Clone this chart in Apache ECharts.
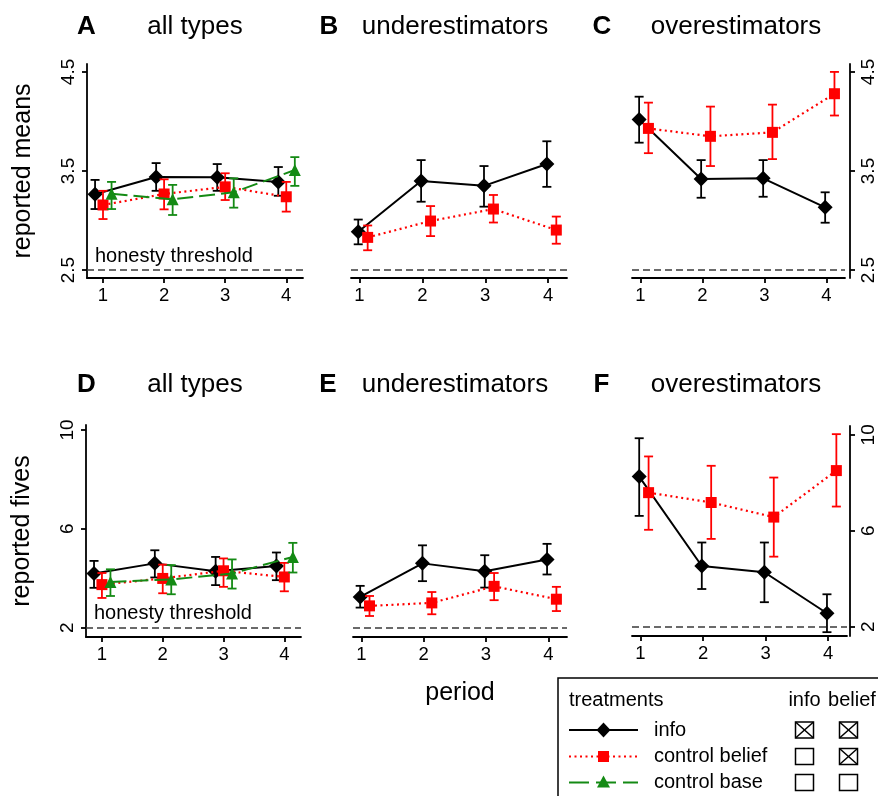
<!DOCTYPE html>
<html><head><meta charset="utf-8">
<script src="https://cdn.jsdelivr.net/npm/echarts@6/dist/echarts.min.js"></script>
<style>html,body{margin:0;padding:0;background:#fff}#c{width:878px;height:796px}</style>
</head><body><div id="c"></div>
<script>
// ---------- data ----------
const periods = [1, 2, 3, 4];
const meansTicks = [2.5, 3.5, 4.5];
const fivesTicks = [2, 6, 10];
const meansThreshold = 2.5;
const fivesThreshold = 2;

// A: reported means, all types
const aInfo = [3.265, 3.44, 3.436, 3.39];
const aInfoLo = [3.116, 3.30, 3.30, 3.25];
const aInfoHi = [3.41, 3.58, 3.57, 3.54];
const aBelief = [3.157, 3.268, 3.34, 3.24];
const aBeliefLo = [3.015, 3.113, 3.207, 3.09];
const aBeliefHi = [3.30, 3.416, 3.477, 3.39];
const aBase = [3.27, 3.214, 3.285, 3.51];
const aBaseLo = [3.116, 3.056, 3.13, 3.35];
const aBaseHi = [3.39, 3.36, 3.426, 3.64];
// B: reported means, underestimators
const bInfo = [2.887, 3.40, 3.35, 3.57];
const bInfoLo = [2.76, 3.19, 3.14, 3.34];
const bInfoHi = [3.01, 3.61, 3.55, 3.80];
const bBelief = [2.83, 2.995, 3.116, 2.904];
const bBeliefLo = [2.70, 2.843, 2.98, 2.766];
const bBeliefHi = [2.95, 3.146, 3.258, 3.04];
// C: reported means, overestimators
const cInfo = [4.02, 3.42, 3.426, 3.133];
const cInfoLo = [3.786, 3.23, 3.24, 2.978];
const cInfoHi = [4.25, 3.61, 3.61, 3.285];
const cBelief = [3.93, 3.85, 3.89, 4.28];
const cBeliefLo = [3.68, 3.55, 3.62, 4.06];
const cBeliefHi = [4.19, 4.15, 4.17, 4.50];
// D: reported fives, all types
const dInfo = [4.19, 4.60, 4.28, 4.49];
const dInfoLo = [3.61, 4.03, 3.72, 3.92];
const dInfoHi = [4.70, 5.13, 4.86, 5.04];
const dBelief = [3.74, 3.99, 4.30, 4.05];
const dBeliefLo = [3.20, 3.39, 3.65, 3.47];
const dBeliefHi = [4.21, 4.55, 4.80, 4.62];
const dBase = [3.85, 3.95, 4.19, 4.86];
const dBaseLo = [3.28, 3.35, 3.58, 4.23];
const dBaseHi = [4.36, 4.53, 4.76, 5.43];
// E: reported fives, underestimators
const eInfo = [3.24, 4.60, 4.28, 4.76];
const eInfoLo = [2.81, 3.88, 3.62, 4.15];
const eInfoHi = [3.69, 5.33, 4.93, 5.39];
const eBelief = [2.88, 3.00, 3.67, 3.15];
const eBeliefLo = [2.47, 2.54, 3.11, 2.67];
const eBeliefHi = [3.28, 3.44, 4.21, 3.65];
// F: reported fives, overestimators
const fInfo = [8.26, 4.53, 4.27, 2.56];
const fInfoLo = [6.62, 3.57, 3.02, 1.77];
const fInfoHi = [9.86, 5.51, 5.51, 3.35];
const fBelief = [7.59, 7.18, 6.57, 8.51];
const fBeliefLo = [6.04, 5.66, 4.92, 7.01];
const fBeliefHi = [9.10, 8.71, 8.22, 10.03];

const legendNames = ['info', 'control belief', 'control base'];
const legendHasInfo = [true, false, false];
const legendHasBelief = [true, true, false];

// ---------- styles / layout ----------
const FONT = 'Liberation Sans';
const BLACK = '#000000', RED = '#ff0000', GREEN = '#148a14';
const TREAT = {
  info:   {color: BLACK, symbol: 'diamond',  size: 15, dash: 'solid', width: 2},
  belief: {color: RED,   symbol: 'rect',     size: 11, dash: [2, 3.5], width: 2.2},
  base:   {color: GREEN, symbol: 'triangle', size: 12, dash: [16, 6], width: 2}
};

const panels = [
  {grid: {left: 87, top: 64, width: 216, height: 214}, xr: [0.738, 4.274], yr: [2.42, 4.58], ticks: meansTicks,
   ypos: 'left', yname: 'reported means', thr: meansThreshold, thrLabel: true, letter: 'A', title: 'all types',
   ser: [['info', aInfo, aInfoLo, aInfoHi, -0.13], ['belief', aBelief, aBeliefLo, aBeliefHi, 0.0], ['base', aBase, aBaseLo, aBaseHi, 0.14]]},
  {grid: {left: 351, top: 64, width: 216, height: 214}, xr: [0.865, 4.30], yr: [2.42, 4.58], ticks: meansTicks,
   ypos: null, thr: meansThreshold, letter: 'B', title: 'underestimators',
   ser: [['info', bInfo, bInfoLo, bInfoHi, -0.02], ['belief', bBelief, bBeliefLo, bBeliefHi, 0.13]]},
  {grid: {left: 632, top: 64, width: 214, height: 214}, xr: [0.865, 4.30], yr: [2.42, 4.58], ticks: meansTicks,
   ypos: 'right', yoff: 5, thr: meansThreshold, letter: 'C', title: 'overestimators',
   ser: [['info', cInfo, cInfoLo, cInfoHi, -0.02], ['belief', cBelief, cBeliefLo, cBeliefHi, 0.13]]},
  {grid: {left: 86, top: 425, width: 215, height: 212}, xr: [0.738, 4.274], yr: [1.62, 10.2], ticks: fivesTicks,
   ypos: 'left', yname: 'reported fives', thr: fivesThreshold, thrLabel: true, letter: 'D', title: 'all types',
   ser: [['info', dInfo, dInfoLo, dInfoHi, -0.13], ['belief', dBelief, dBeliefLo, dBeliefHi, 0.0], ['base', dBase, dBaseLo, dBaseHi, 0.14]]},
  {grid: {left: 353, top: 425, width: 214, height: 212}, xr: [0.865, 4.30], yr: [1.62, 10.2], ticks: fivesTicks,
   ypos: null, thr: fivesThreshold, xname: 'period', letter: 'E', title: 'underestimators',
   ser: [['info', eInfo, eInfoLo, eInfoHi, -0.02], ['belief', eBelief, eBeliefLo, eBeliefHi, 0.13]]},
  {grid: {left: 632, top: 426, width: 215, height: 210}, xr: [0.865, 4.30], yr: [1.61, 10.37], ticks: fivesTicks,
   ypos: 'right', yoff: 3, thr: fivesThreshold, letter: 'F', title: 'overestimators',
   ser: [['info', fInfo, fInfoLo, fInfoHi, -0.02], ['belief', fBelief, fBeliefLo, fBeliefHi, 0.13]]}
];
const titleCenters = [[86.5, 195, 27], [329, 455, 27], [602, 736, 27], [86.5, 195, 385], [328, 455, 385], [601.5, 736, 385]];

function errRender(color) {
  return function (params, api) {
    const x = api.value(0), lo = api.value(1), hi = api.value(2);
    const a = api.coord([x, lo]), b = api.coord([x, hi]);
    const cap = 4.5;
    const st = {stroke: color, lineWidth: 1.8};
    return {type: 'group', children: [
      {type: 'line', shape: {x1: a[0], y1: a[1], x2: b[0], y2: b[1]}, style: st},
      {type: 'line', shape: {x1: a[0] - cap, y1: a[1], x2: a[0] + cap, y2: a[1]}, style: st},
      {type: 'line', shape: {x1: b[0] - cap, y1: b[1], x2: b[0] + cap, y2: b[1]}, style: st}
    ]};
  };
}

const axisLineStyle = {color: '#000', width: 1.8};
const grid = [], xAxis = [], yAxis = [], series = [], graphic = [];

panels.forEach((p, i) => {
  grid.push(p.grid);
  xAxis.push({
    type: 'value', gridIndex: i, min: p.xr[0], max: p.xr[1],
    axisLine: {show: true, onZero: false, lineStyle: axisLineStyle},
    axisTick: {show: true, customValues: periods, length: 5, lineStyle: axisLineStyle},
    axisLabel: {customValues: periods, fontSize: 18.5, color: '#000', fontFamily: FONT, margin: 8},
    splitLine: {show: false},
    name: p.xname || '', nameLocation: 'middle', nameGap: 44,
    nameTextStyle: {fontSize: 25, color: '#000', fontFamily: FONT}
  });
  yAxis.push({
    type: 'value', gridIndex: i, min: p.yr[0], max: p.yr[1],
    show: !!p.ypos, position: p.ypos || 'left', offset: p.yoff || 0,
    axisLine: {show: true, onZero: false, lineStyle: axisLineStyle},
    axisTick: {show: true, customValues: p.ticks, length: 5, lineStyle: axisLineStyle},
    axisLabel: {customValues: p.ticks, rotate: 90, fontSize: 19, color: '#000', fontFamily: FONT, margin: 9},
    splitLine: {show: false},
    name: p.yname || '', nameLocation: 'middle', nameGap: 51, nameRotate: 90,
    nameTextStyle: {fontSize: 25, color: '#000', fontFamily: FONT}
  });
  p.ser.forEach((s, k) => {
    const t = TREAT[s[0]];
    series.push({
      type: 'custom', xAxisIndex: i, yAxisIndex: i, renderItem: errRender(t.color),
      encode: {x: 0, y: [1, 2]}, silent: true, z: 2 + k,
      data: periods.map((pr, j) => [pr + s[4], s[2][j], s[3][j]])
    });
    const ls = {
      type: 'line', xAxisIndex: i, yAxisIndex: i, z: 2 + k,
      symbol: t.symbol, symbolSize: t.size, showSymbol: true,
      itemStyle: {color: t.color, borderWidth: 0},
      lineStyle: {color: t.color, width: t.width, type: t.dash},
      data: periods.map((pr, j) => [pr + s[4], s[1][j]])
    };
    if (k === 0) {
      ls.markLine = {
        silent: true, symbol: 'none', z: 1,
        lineStyle: {color: '#3a3a3a', width: 1.6, type: [7, 4]},
        label: p.thrLabel ? {show: true, formatter: 'honesty threshold', position: 'insideStartTop',
          fontSize: 20, color: '#000', fontFamily: FONT, distance: [8, 4]} : {show: false},
        data: [{yAxis: p.thr}]
      };
    }
    series.push(ls);
  });
  const tc = titleCenters[i];
  graphic.push({type: 'text', style: {text: p.letter, x: tc[0], y: tc[2], textAlign: 'center', textVerticalAlign: 'middle',
    fontSize: 26, fontWeight: 'bold', fontFamily: FONT, fill: '#000'}});
  graphic.push({type: 'text', style: {text: p.title, x: tc[1], y: tc[2], textAlign: 'center', textVerticalAlign: 'middle',
    fontSize: 26, fontFamily: FONT, fill: '#000'}});
});

// ---------- legend box ----------
graphic.push({type: 'rect', shape: {x: 558, y: 678, width: 340, height: 140}, style: {fill: '#fff', stroke: '#000', lineWidth: 1.5}, z: 0});
const lt = (text, x, y, align) => ({type: 'text', z: 5, style: {text, x, y, textAlign: align || 'left', textVerticalAlign: 'middle', fontSize: 20, fontFamily: FONT, fill: '#000'}});
graphic.push(lt('treatments', 569, 700));
graphic.push(lt('info', 804.5, 700, 'center'));
graphic.push(lt('belief', 852, 700, 'center'));
const rowY = [730, 756.5, 782.5];
const treatKeys = ['info', 'belief', 'base'];
const legendDash = {info: null, belief: [2, 3.5], base: [20, 7]};
treatKeys.forEach((key, r) => {
  const t = TREAT[key], y = rowY[r], cx = 603.5;
  graphic.push({type: 'line', z: 5, shape: {x1: 569, y1: y, x2: 638, y2: y},
    style: {stroke: t.color, lineWidth: t.width, lineDash: legendDash[key]}});
  if (key === 'info') {
    graphic.push({type: 'polygon', z: 6, shape: {points: [[cx, y - 7.5], [cx + 7, y], [cx, y + 7.5], [cx - 7, y]]}, style: {fill: t.color}});
  } else if (key === 'belief') {
    graphic.push({type: 'rect', z: 6, shape: {x: cx - 5.5, y: y - 5.5, width: 11, height: 11}, style: {fill: t.color}});
  } else {
    graphic.push({type: 'polygon', z: 6, shape: {points: [[cx, y - 7], [cx + 6.5, y + 5], [cx - 6.5, y + 5]]}, style: {fill: t.color}});
  }
  graphic.push(lt(legendNames[r], 654, y));
  [[795.5, legendHasInfo[r]], [839.5, legendHasBelief[r]]].forEach(([bx, checked]) => {
    const by = y - 8;
    graphic.push({type: 'rect', z: 5, shape: {x: bx, y: by, width: 18, height: 16}, style: {fill: 'none', stroke: '#000', lineWidth: 1.5}});
    if (checked) {
      graphic.push({type: 'line', z: 5, shape: {x1: bx, y1: by, x2: bx + 18, y2: by + 16}, style: {stroke: '#000', lineWidth: 1.5}});
      graphic.push({type: 'line', z: 5, shape: {x1: bx + 18, y1: by, x2: bx, y2: by + 16}, style: {stroke: '#000', lineWidth: 1.5}});
    }
  });
});

const chart = echarts.init(document.getElementById('c'), null, {renderer: 'canvas'});
chart.setOption({
  animation: false,
  backgroundColor: '#fff',
  textStyle: {fontFamily: FONT, color: '#000'},
  grid, xAxis, yAxis, series, graphic
});
</script></body></html>
